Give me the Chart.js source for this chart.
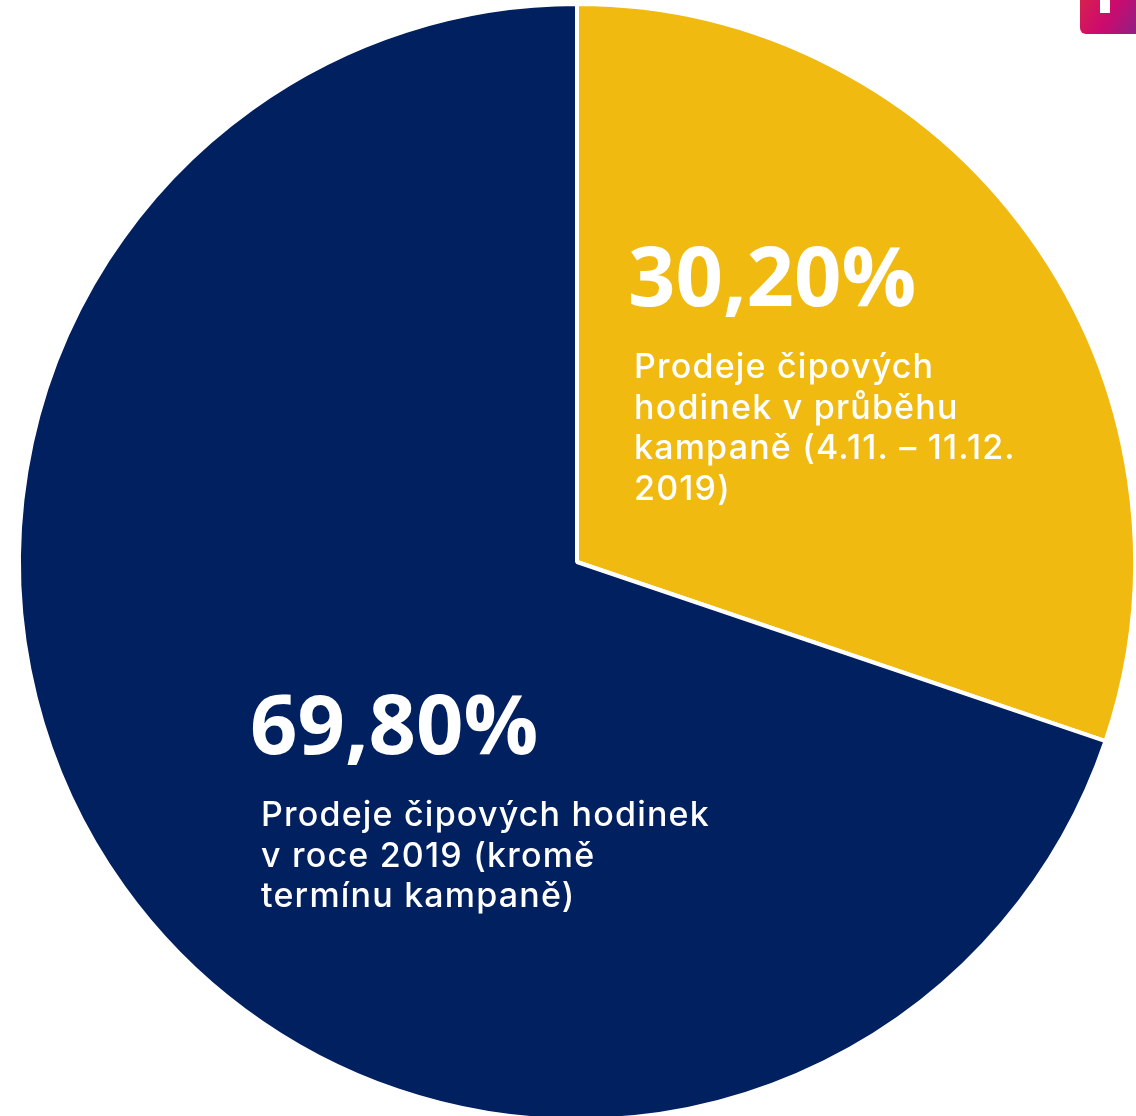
<!DOCTYPE html>
<html>
<head>
<meta charset="utf-8">
<script src="https://cdn.jsdelivr.net/npm/chart.js@4"></script>
<style>
html, body { margin: 0; padding: 0; background: #fff; overflow: hidden; }
#wrap { position: relative; width: 1136px; height: 1116px; overflow: hidden; }
canvas { display: block; }
</style>
</head>
<body>
<div id="wrap"><canvas id="c" width="1140" height="1130"></canvas></div>
<script>
const categories = ["Prodeje čipových hodinek v průběhu kampaně (4.11. – 11.12. 2019)", "Prodeje čipových hodinek v roce 2019 (kromě termínu kampaně)"];
const values = [30.2, 69.8];
const valueLabels = ["30,20%", "69,80%"];
const captions = [
  ["Prodeje čipových", "hodinek v průběhu", "kampaně (4.11. – 11.12.", "2019)"],
  ["Prodeje čipových hodinek", "v roce 2019 (kromě", "termínu kampaně)"],
];
const colors = ["#F0BA11", "#00205F"];

// big number + caption lines, anchored to the slice
const labelPlugin = {
  id: "sliceLabels",
  afterDatasetsDraw(chart) {
    const ctx = chart.ctx;
    const anchors = [[628, 306, 634, 368], [250, 754, 261, 816]];
    ctx.save();
    ctx.fillStyle = "#fff";
    ctx.textAlign = "left";
    valueLabels.forEach((txt, i) => {
      const a = anchors[i];
      ctx.font = "bold 83px 'Open Sans'";
      ctx.letterSpacing = "0px";
      ctx.textBaseline = "alphabetic";
      ctx.fillText(txt, a[0], a[1]);
      ctx.font = "500 34px Inter";
      ctx.letterSpacing = "1.2px";
      ctx.textBaseline = "middle";
      captions[i].forEach((line, j) => ctx.fillText(line, a[2], a[3] + j * 40.5));
    });
    // small badge clipped in the top right corner
    const g = ctx.createLinearGradient(1080, 0, 1136, 34);
    g.addColorStop(0, "#D8204F");
    g.addColorStop(0.5, "#CC0A6E");
    g.addColorStop(1, "#8E2084");
    ctx.fillStyle = g;
    ctx.beginPath();
    ctx.roundRect(1080, -20, 80, 54, 6);
    ctx.fill();
    ctx.fillStyle = "#fff";
    ctx.fillRect(1100, 0, 10, 13);
    ctx.restore();
  },
};

new Chart(document.getElementById("c"), {
  type: "pie",
  data: {
    labels: categories,
    datasets: [{
      data: values,
      backgroundColor: colors,
      borderColor: "#fff",
      borderWidth: 4,
    }],
  },
  options: {
    responsive: false,
    animation: false,
    layout: { padding: { left: 17, right: 3, top: 2, bottom: 8 } },
    plugins: { legend: { display: false }, tooltip: { enabled: false } },
  },
  plugins: [labelPlugin],
});
</script>
</body>
</html>
